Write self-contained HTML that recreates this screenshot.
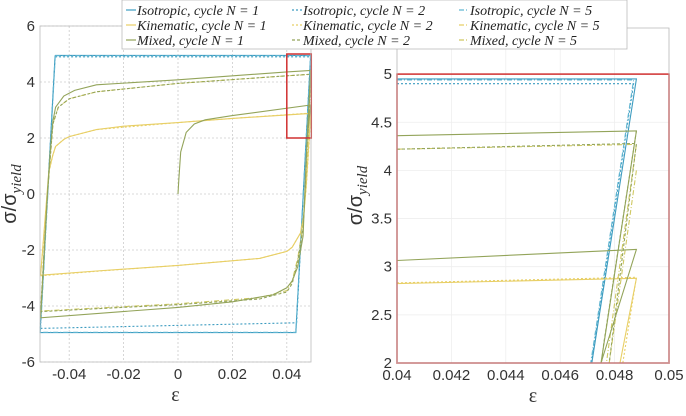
<!DOCTYPE html>
<html><head><meta charset="utf-8"><style>
html,body{margin:0;background:#fff;width:686px;height:416px;overflow:hidden}
svg{display:block;font-family:"Liberation Sans",sans-serif}
.leg{font-family:"Liberation Serif",serif;font-style:italic;font-size:14px;fill:#222}
</style></head><body>
<svg id="c" width="686" height="416" viewBox="0 0 686 416">
<g id="gL"></g>
<g id="gR"></g>
<g id="legend"></g>
</svg>
<script>
// ---- data ----
const isoN1Eps=[-0.0452,0.0488,0.0433,-0.0507,-0.0452];
const isoN1Sig=[4.95,4.95,-4.95,-4.95,4.95];
const isoN2Eps=[-0.0507,-0.0452,0.0487,0.0436,-0.0507];
const isoN2Sig=[-4.8,4.9,4.9,-4.6,-4.8];
const isoN5Eps=[-0.0451,0.0487,0.0434,-0.0506,-0.0451];
const isoN5Sig=[4.94,4.94,-4.94,-4.94,4.94];
const kinN1Eps=[-0.0505,-0.0475,-0.046,-0.045,-0.042,-0.04,-0.03,-0.02,0,0.02,0.0488,0.0482,0.0472,0.0462,0.045,0.042,0.04,0.03,0,-0.03,-0.0505];
const kinN1Sig=[-2.9,0.8,1.4,1.7,1.95,2.05,2.3,2.42,2.55,2.7,2.88,2.0,0.4,-0.8,-1.4,-1.9,-2.05,-2.3,-2.55,-2.75,-2.9];
const kinN2Eps=[-0.0505,-0.0474,-0.046,-0.045,-0.042,-0.04,-0.03,0,0.02,0.0488,0.0483,0.0472,0.046,0.045,0.042,0.04,0.03,0,-0.03,-0.0505];
const kinN2Sig=[-2.92,0.8,1.4,1.7,1.95,2.05,2.3,2.55,2.7,2.89,2.0,0.3,-1.0,-1.4,-1.9,-2.05,-2.3,-2.55,-2.76,-2.92];
const mixN1Eps=[0,0.0003,0.001,0.003,0.006,0.01,0.02,0.0488,0.0475,0.0468,0.046,0.044,0.042,0.04,0.035,0.02,0,-0.0505,-0.048,-0.047,-0.046,-0.045,-0.042,-0.038,-0.03,0,0.04,0.0488,0.0475];
const mixN1Sig=[0,0.5,1.5,2.2,2.5,2.65,2.8,3.18,2.0,0.5,-1.5,-2.6,-3.1,-3.35,-3.6,-3.85,-4.05,-4.42,0,1.5,2.6,3.1,3.5,3.7,3.9,4.08,4.36,4.41,2.0];
const mixN2Eps=[0.0488,0.0476,0.0468,0.046,0.044,0.042,0.04,0.03,0,-0.0505,-0.048,-0.046,-0.044,-0.04,-0.03,0,0.04,0.0488,0.0478];
const mixN2Sig=[4.41,2.2,0.2,-1.2,-2.4,-3.2,-3.5,-3.75,-3.95,-4.2,0,2.5,3.1,3.4,3.65,3.95,4.22,4.28,2.0];
const mixN5Eps=[0.0488,0.0478,0.0468,0.046,0.044,0.042,0.04,0.03,0,-0.0505,-0.048,-0.046,-0.044,-0.04,-0.03,0,0.04,0.0488,0.0477];
const mixN5Sig=[4.0,2.0,0.1,-1.1,-2.3,-3.1,-3.45,-3.7,-3.92,-4.18,0,2.5,3.1,3.4,3.65,3.95,4.22,4.27,2.0];
const xTicksL=[-0.04,-0.02,0,0.02,0.04];
const xTickLabelsL=["-0.04","-0.02","0","0.02","0.04"];
const yTicksL=[-6,-4,-2,0,2,4,6];
const xTicksR=[0.04,0.042,0.044,0.046,0.048,0.05];
const xTickLabelsR=["0.04","0.042","0.044","0.046","0.048","0.05"];
const yTicksR=[2,2.5,3,3.5,4,4.5,5];
const yTickLabelsR=["2","2.5","3","3.5","4","4.5","5"];

const NS="http://www.w3.org/2000/svg";
function mk(tag,attrs,parent){const e=document.createElementNS(NS,tag);for(const k in attrs)e.setAttribute(k,attrs[k]);parent.appendChild(e);return e;}
const BLUE="#3d9cc0",YEL="#e8cf66",OLV="#93a45a";
const series=[
 {n:"isotropic-n1",x:isoN1Eps,y:isoN1Sig,c:BLUE,d:""},
 {n:"isotropic-n2",x:isoN2Eps,y:isoN2Sig,c:BLUE,d:"2,2"},
 {n:"isotropic-n5",x:isoN5Eps,y:isoN5Sig,c:"#62b6d2",d:"5,2,1,2"},
 {n:"kinematic-n1",x:kinN1Eps,y:kinN1Sig,c:YEL,d:""},
 {n:"kinematic-n2",x:kinN2Eps,y:kinN2Sig,c:YEL,d:"2,2"},
 {n:"mixed-n5",x:mixN5Eps,y:mixN5Sig,c:"#cfc862",d:"5,2,1,2"},
 {n:"mixed-n1",x:mixN1Eps,y:mixN1Sig,c:OLV,d:""},
 {n:"mixed-n2",x:mixN2Eps,y:mixN2Sig,c:OLV,d:"3,2"}
];
// Liang-Barsky segment clipping against box
function clipSeg(x0,y0,x1,y1,b){
  let t0=0,t1=1;const dx=x1-x0,dy=y1-y0;
  const p=[-dx,dx,-dy,dy],q=[x0-b.x,b.x+b.w-x0,y0-b.y,b.y+b.h-y0];
  for(let i=0;i<4;i++){
    if(p[i]===0){if(q[i]<0)return null;}
    else{const r=q[i]/p[i];if(p[i]<0){if(r>t1)return null;if(r>t0)t0=r;}else{if(r<t0)return null;if(r<t1)t1=r;}}
  }
  return [x0+t0*dx,y0+t0*dy,x0+t1*dx,y0+t1*dy];
}
function clippedPath(px,py,b){
  let d="",lx=null,ly=null;
  for(let i=0;i<px.length-1;i++){
    const s=clipSeg(px[i],py[i],px[i+1],py[i+1],b);
    if(!s){lx=null;continue;}
    if(lx===null||Math.abs(lx-s[0])>0.01||Math.abs(ly-s[1])>0.01)d+="M"+s[0].toFixed(1)+","+s[1].toFixed(1);
    d+="L"+s[2].toFixed(1)+","+s[3].toFixed(1);
    lx=s[2];ly=s[3];
  }
  return d||"M0,0";
}
function panel(g,xs,ys,box,xt,xtl,yt,ytl,grid,side){
  xt.forEach(v=>{const l=mk('line',{x1:xs(v),x2:xs(v),y1:box.y,y2:box.y+box.h,stroke:grid,'stroke-width':0.8,'stroke-dasharray':side=='L'?'2,2':''},g);
   });
  yt.forEach(v=>{const l=mk('line',{x1:box.x,x2:box.x+box.w,y1:ys(v),y2:ys(v),stroke:grid,'stroke-width':0.8,'stroke-dasharray':side=='L'?'2,2':''},g);
   });
  series.forEach(s=>{
    const d=clippedPath(s.x.map(xs),s.y.map(ys),box);
    const p=mk('path',{d:d,fill:'none',stroke:s.c,'stroke-width':1.1,'stroke-dasharray':s.d},g);
    
    
  });
  const r=mk('rect',{x:xs(0.04),y:ys(5),width:xs(side=='L'?0.049:0.05)-xs(0.04),height:ys(2)-ys(5),fill:'none',stroke:'#d03030','stroke-width':1.5},g);
  
  
  const f=mk('rect',{x:box.x,y:box.y,width:box.w,height:box.h,fill:'none',stroke:'#bbb','stroke-width':0.8},g);
  
  
  xt.forEach((v,i)=>{const t=mk('text',{x:xs(v),y:box.y+box.h+17,'text-anchor':'middle','font-size':15,fill:'#333'},g);t.textContent=xtl[i];
    });
  yt.forEach((v,i)=>{const t=mk('text',{x:box.x-5,y:ys(v)+5,'text-anchor':'end','font-size':15,fill:'#333'},g);t.textContent=ytl[i];
    });
  const xl=mk('text',{x:box.x+box.w/2,y:box.y+box.h+39,'text-anchor':'middle','font-size':20,fill:'#333','font-family':'Liberation Serif,serif'},g);xl.textContent='ε';
  
  const cx=side=='L'?16:362, cy=box.y+box.h/2;
  const yl=mk('text',{x:0,y:0,transform:`translate(${cx},${cy}) rotate(-90)`,'text-anchor':'middle','font-size':20,fill:'#333'},g);
  yl.innerHTML='σ/σ<tspan font-family="Liberation Serif,serif" font-style="italic" font-size="15" dy="5">yield</tspan>';
  
}
const gL=document.getElementById('gL'),gR=document.getElementById('gR');
panel(gL,v=>178+v*2720,v=>194-v*28,{x:40,y:26,w:271,h:336},xTicksL,xTickLabelsL,yTicksL,yTicksL.map(String),'#ccc','L');
panel(gR,v=>397+(v-0.04)*27200,v=>363-(v-2)*96.3,{x:397,y:28,w:272,h:335},xTicksR,xTickLabelsR,yTicksR,yTickLabelsR,'#eee','R');
const lg=document.getElementById('legend');
mk('rect',{x:122,y:0,width:505,height:49,fill:'#fff',stroke:'#bbb','stroke-width':0.8},lg);
const legItems=[["Isotropic, cycle N = 1",BLUE,""],["Isotropic, cycle N = 2",BLUE,"2,2"],["Isotropic, cycle N = 5","#62b6d2","5,2,1,2"],
["Kinematic, cycle N = 1",YEL,""],["Kinematic, cycle N = 2",YEL,"2,2"],["Kinematic, cycle N = 5",YEL,"5,2,1,2"],
["Mixed, cycle N = 1",OLV,""],["Mixed, cycle N = 2",OLV,"3,2"],["Mixed, cycle N = 5","#cfc862","5,2,1,2"]];
const colX=[126,292,459],rowY=[10,25,40];
legItems.forEach((it,i)=>{
  const x=colX[i%3],y=rowY[Math.floor(i/3)];
  const g=mk('g',{},lg);
  
  
  mk('line',{x1:x,x2:x+10,y1:y,y2:y,stroke:it[1],'stroke-width':1.2,'stroke-dasharray':it[2]},g);
  const t=mk('text',{x:x+11,y:y+5,class:'leg'},g);t.textContent=it[0];
});
</script>
</body></html>
